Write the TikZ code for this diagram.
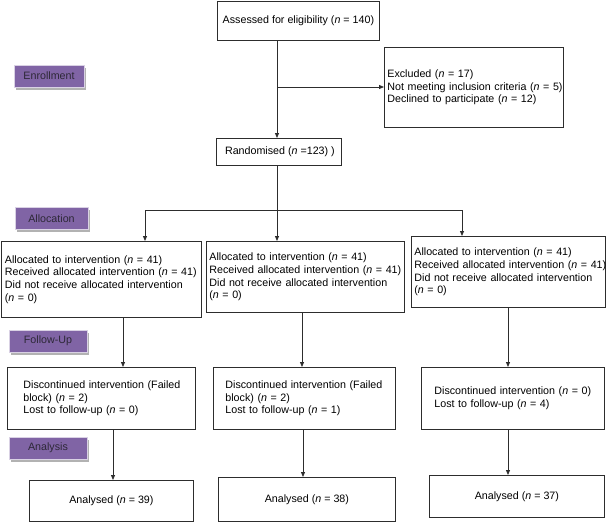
\documentclass[tikz,border=0pt]{standalone}
\usepackage{fontspec}
\setmainfont{Liberation Sans}
\usetikzlibrary{arrows.meta,shadows}
\definecolor{labfill}{RGB}{128,100,165}
\definecolor{labtext}{RGB}{45,40,55}
\definecolor{boxline}{RGB}{45,45,45}
\newcommand\oneline[1]{\mbox{#1}}
\begin{document}
\begin{tikzpicture}[x=1pt,y=-1pt,
  every node/.style={font=\fontsize{10.7}{12.7}\selectfont},
  box/.style={draw=boxline, line width=0.8pt, anchor=north west, inner ysep=0pt, align=left},
  cbox/.style={draw=boxline, line width=0.8pt, anchor=north west, inner sep=0pt, align=center},
  lab/.style={fill=labfill, draw=white!70!labfill, line width=1pt, text=labtext, minimum height=22pt, inner sep=0pt,
    drop shadow={shadow xshift=2pt, shadow yshift=-2.5pt, fill=black!30, opacity=1}},
  arr/.style={draw=boxline, line width=0.8pt, -{Triangle[length=5pt,width=4pt]}},
  ln/.style={draw=boxline, line width=0.8pt}]
\useasboundingbox (0,0) rectangle (607,523);

% stage labels
\node[lab, minimum width=70pt] (enr) at (49,76) {Enrollment};
\node[lab, minimum width=73pt] (alc) at (51.5,218.5) {Allocation};
\node[lab, minimum width=78pt] (fol) at (48,341) {Follow-Up};
\node[lab, minimum width=78pt] (ana) at (48,448) {Analysis};

% enrolment
\node[cbox, minimum width=162pt, minimum height=39pt] (assess) at (217,1) {Assessed for eligibility (\textit{n} = 140)};
\node[box, text width=173pt, inner xsep=3pt, minimum height=80pt] (excl) at (384,47)
  {\oneline{Excluded (\textit{n} = 17)}\\\oneline{Not meeting inclusion criteria (\textit{n} = 5)}\\\oneline{Declined to participate (\textit{n} = 12)}};
\node[cbox, minimum width=125pt, minimum height=27pt] (rand) at (216,138) {\hspace{2pt}Randomised (\textit{n} =123) )};

% allocation
\node[box, text width=192pt, inner xsep=4pt, minimum height=76pt] (allocL) at (0.5,241)
  {\oneline{Allocated to intervention (\textit{n} = 41)}\\\oneline{Received allocated intervention (\textit{n} = 41)}\\\oneline{Did not receive allocated intervention}\\\oneline{(\textit{n} = 0)}};
\node[box, text width=192pt, inner xsep=3pt, minimum height=71pt] (allocM) at (206,241)
  {\oneline{Allocated to intervention (\textit{n} = 41)}\\\oneline{Received allocated intervention (\textit{n} = 41)}\\\oneline{Did not receive allocated intervention}\\\oneline{(\textit{n} = 0)}};
\node[box, text width=188pt, inner xsep=3pt, minimum height=71pt] (allocR) at (411,236)
  {\oneline{Allocated to intervention (\textit{n} = 41)}\\\oneline{Received allocated intervention (\textit{n} = 41)}\\\oneline{Did not receive allocated intervention}\\\oneline{(\textit{n} = 0)}};

% follow-up
\node[box, text width=156pt, inner xsep=16pt, minimum height=62pt] (fuL) at (7,367)
  {\oneline{Discontinued intervention (Failed}\\\oneline{block) (\textit{n} = 2)}\\\oneline{Lost to follow-up (\textit{n} = 0)}};
\node[box, text width=158pt, inner xsep=12pt, minimum height=62pt] (fuM) at (213,367)
  {\oneline{Discontinued intervention (Failed}\\\oneline{block) (\textit{n} = 2)}\\\oneline{Lost to follow-up (\textit{n} = 1)}};
\node[box, text width=157pt, inner xsep=13pt, minimum height=62pt] (fuR) at (421,367)
  {\oneline{Discontinued intervention (\textit{n} = 0)}\\\oneline{Lost to follow-up (\textit{n} = 4)}};

% analysis
\node[cbox, minimum width=164pt, minimum height=41pt] (anL) at (29,480) {Analysed (\textit{n} = 39)};
\node[cbox, minimum width=177pt, minimum height=44pt] (anM) at (218,477) {Analysed (\textit{n} = 38)};
\node[cbox, minimum width=175pt, minimum height=42pt] (anR) at (429,475) {Analysed (\textit{n} = 37)};

% junction coordinates
\coordinate (jx) at (277,87);
\coordinate (jr) at (277,210);
\coordinate (jl) at (145,210);
\coordinate (jrr) at (462,210);
\coordinate (cL1) at (123,0);
\coordinate (cM1) at (302,0);
\coordinate (cR1) at (508,0);
\coordinate (cL2) at (113,0);
\coordinate (cM2) at (303,0);
\coordinate (cR2) at (508,0);

% connectors
\draw[arr] (assess.south -| jx) -- (rand.north -| jx);
\draw[arr] (jx) -- (excl.west |- jx);
\draw[ln] (rand.south -| jr) -- (jr);
\draw[ln] (jl) -- (jrr);
\draw[arr] (jl) -- (allocL.north -| jl);
\draw[arr] (jr) -- (allocM.north -| jr);
\draw[arr] (jrr) -- (allocR.north -| jrr);
\draw[arr] (allocL.south -| cL1) -- (fuL.north -| cL1);
\draw[arr] (allocM.south -| cM1) -- (fuM.north -| cM1);
\draw[arr] (allocR.south -| cR1) -- (fuR.north -| cR1);
\draw[arr] (fuL.south -| cL2) -- (anL.north -| cL2);
\draw[arr] (fuM.south -| cM2) -- (anM.north -| cM2);
\draw[arr] (fuR.south -| cR2) -- (anR.north -| cR2);
\end{tikzpicture}
\end{document}
